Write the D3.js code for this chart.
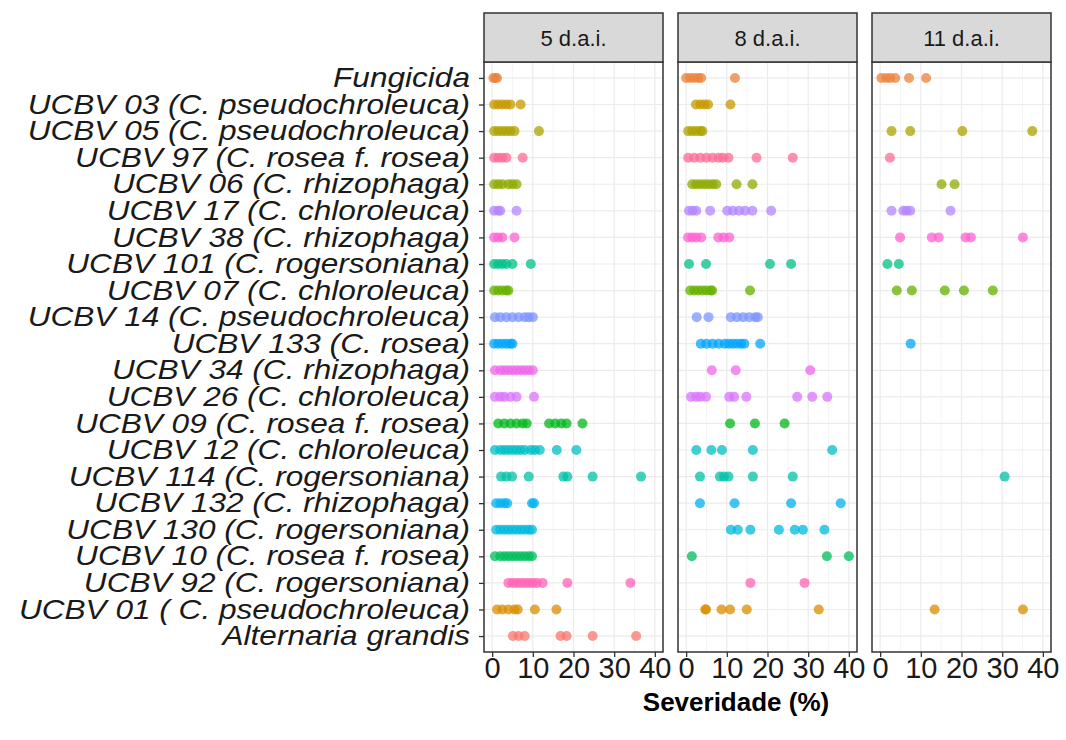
<!DOCTYPE html>
<html lang="en">
<head>
    <meta charset="UTF-8">
    <title>Severidade por tratamento</title>
    <script src="https://d3js.org/d3.v7.min.js"></script>
    <style>
        body { margin: 0; background: #fff; }
        svg { font-family: "Liberation Sans", Arial, sans-serif; }
    </style>
</head>
<body>
    <script>
        // categories, top to bottom as drawn
        const treatments = [
            "Fungicida",
            "UCBV 03 (C. pseudochroleuca)",
            "UCBV 05 (C. pseudochroleuca)",
            "UCBV 97 (C. rosea f. rosea)",
            "UCBV 06 (C. rhizophaga)",
            "UCBV 17 (C. chloroleuca)",
            "UCBV 38 (C. rhizophaga)",
            "UCBV 101 (C. rogersoniana)",
            "UCBV 07 (C. chloroleuca)",
            "UCBV 14 (C. pseudochroleuca)",
            "UCBV 133 (C. rosea)",
            "UCBV 34 (C. rhizophaga)",
            "UCBV 26 (C. chloroleuca)",
            "UCBV 09 (C. rosea f. rosea)",
            "UCBV 12 (C. chloroleuca)",
            "UCBV 114 (C. rogersoniana)",
            "UCBV 132 (C. rhizophaga)",
            "UCBV 130 (C. rogersoniana)",
            "UCBV 10 (C. rosea f. rosea)",
            "UCBV 92 (C. rogersoniana)",
            "UCBV 01 ( C. pseudochroleuca)",
            "Alternaria grandis"
        ];

        const days = ["5 d.a.i.", "8 d.a.i.", "11 d.a.i."];
        const xTicks = [0, 10, 20, 30, 40];

        // severity (%) observations, one list per treatment (same order as treatments)
        const sev5 = [
            [0.3, 0.8, 1.2],
            [0.5, 1.5, 2.5, 3.5, 4.5, 7],
            [0.5, 1.5, 2.5, 3.5, 4.5, 5.5, 11.5],
            [0.5, 1.5, 2.5, 3.5, 7.5],
            [0.5, 1.5, 2.5, 4, 5, 6],
            [0.5, 1.5, 2, 6],
            [0.5, 1.5, 2.5, 5.5],
            [0.5, 1.5, 2.5, 3.5, 5, 9.5],
            [0.5, 1.5, 2.5, 3.5, 4],
            [0.7, 2, 3.5, 5, 6.5, 8, 9, 10],
            [0.5, 1.5, 2.5, 3.5, 4.5, 5],
            [0.7, 2, 3, 4, 5, 6, 7, 8, 9, 10],
            [0.7, 2, 3, 4.5, 6, 10.3],
            [1.5, 3, 4.5, 6, 7.5, 8.5, 14, 15.5, 17, 18.3, 22.2],
            [0.7, 2, 3, 4, 5, 6, 7, 8, 9.5, 10.5, 11.7, 15.9, 20.7],
            [2.2, 3.5, 4.9, 9, 17.5, 18.5, 24.7, 36.6],
            [1, 2, 3, 3.7, 9.8, 10.3],
            [1, 2, 3, 4, 5, 6, 7, 8, 9, 9.8],
            [0.7, 2, 3, 4, 5, 6, 7, 8, 9, 9.8],
            [4, 5, 6, 7, 8, 9, 10, 11, 12.4, 18.5, 34],
            [1.2, 2.5, 4, 5.5, 6.3, 10.5, 15.8],
            [5.1, 6.5, 8, 16.8, 18.3, 24.7, 35.4]
        ];

        const sev8 = [
            [0, 1, 2, 3, 3.7, 12],
            [2.4, 3.5, 4.5, 5.4, 10.9],
            [0.5, 1.5, 2.5, 3.5, 4],
            [0.5, 2, 3.5, 5, 6.5, 8, 9, 10.4, 17.3, 26.2],
            [1.5, 2.5, 3.5, 4.5, 5.5, 6.5, 7.4, 12.4, 16.3],
            [0.7, 1.6, 2.5, 5.9, 10.1, 11.5, 13, 14.5, 16.3, 20.9],
            [0.5, 1.5, 2.5, 3.7, 7.9, 9.2, 10.6],
            [0.7, 4.9, 20.6, 25.8],
            [1, 2, 3, 4, 5, 6, 6.4, 15.7],
            [2.6, 5.5, 11, 12.5, 14, 15.5, 17, 17.6],
            [3.6, 5, 6.5, 8, 9.5, 10.5, 11.5, 12.5, 13.5, 14.3, 18.2],
            [6.3, 12.2, 30.5],
            [1.2, 2.5, 3.5, 4.9, 10.6, 11.8, 14.8, 27.3, 31, 34.7],
            [10.8, 16.9, 24.2],
            [2.5, 6.2, 8.8, 16.4, 35.9],
            [3.4, 8.3, 9.3, 10.4, 16.4, 26.2],
            [3.4, 11.9, 25.8, 38],
            [11, 12.7, 15.8, 22.8, 26.7, 28.7, 34],
            [1.4, 34.6, 40],
            [15.8, 29.1],
            [4.7, 4.9, 8.7, 10.8, 14.9, 32.6],
            []
        ];

        const sev11 = [
            [0.3, 1.5, 2.5, 3.7, 7.1, 11.3],
            [],
            [2.8, 7.4, 20.2, 37.4],
            [2.4],
            [15.1, 18.3],
            [2.8, 5.7, 6.5, 7.4, 17.3],
            [4.9, 12.7, 14.4, 21, 22.3, 35.1],
            [1.8, 4.6],
            [4.1, 7.8, 15.9, 20.6, 27.7],
            [],
            [7.5],
            [],
            [],
            [],
            [],
            [30.6],
            [],
            [],
            [],
            [],
            [13.4, 35.1],
            []
        ];

        const panelValues = [sev5, sev8, sev11];

        // ggplot-like hue palette (polar LUV, c = 100, l = 65)
        function hclLuv(h, c, l) {
            const Xn = 95.047, Yn = 100, Zn = 108.883;
            const den = Xn + 15 * Yn + 3 * Zn;
            const un = 4 * Xn / den, vn = 9 * Yn / den;
            const hr = h * Math.PI / 180;
            const Y = Yn * Math.pow((l + 16) / 116, 3);
            const u = c * Math.cos(hr) / (13 * l) + un;
            const v = c * Math.sin(hr) / (13 * l) + vn;
            const X = 9 * Y * u / (4 * v);
            const Z = -X / 3 - 5 * Y + 3 * Y / v;
            const x = X / 100, y = Y / 100, z = Z / 100;
            const lin = [
                3.240479 * x - 1.537150 * y - 0.498535 * z,
                -0.969256 * x + 1.875992 * y + 0.041556 * z,
                0.055648 * x - 0.204043 * y + 1.057311 * z
            ];
            const rgb = lin.map(t => {
                const g = t <= 0.0031308 ? 12.92 * t : 1.055 * Math.pow(t, 1 / 2.4) - 0.055;
                return Math.round(255 * Math.max(0, Math.min(1, g)));
            });
            return d3.rgb(rgb[0], rgb[1], rgb[2]).formatHex();
        }

        const colorLevels = treatments.slice().sort();
        const n = colorLevels.length;
        const color = d3.scaleOrdinal()
            .domain(colorLevels)
            .range(colorLevels.map((d, i) => hclLuv(15 + i * 360 / n, 100, 65)));

        const width = 1066, height = 740;
        const panelTop = 62, panelBottom = 652, stripTop = 13;
        const panelLeft = 484, panelW = 179, panelGap = 15;

        const svg = d3.select("body").append("svg")
            .attr("width", width)
            .attr("height", height);

        const y = d3.scalePoint()
            .domain(treatments)
            .range([panelTop, panelBottom])
            .padding(0.6);

        const x = d3.scaleLinear()
            .domain([-2, 42])
            .range([0, panelW]);

        const minorTicks = [5, 15, 25, 35];

        days.forEach((day, p) => {
            const g = svg.append("g")
                .attr("transform", `translate(${panelLeft + p * (panelW + panelGap)},0)`);

            // grid
            g.selectAll(".minor")
                .data(minorTicks)
                .enter().append("line")
                .attr("x1", d => x(d)).attr("x2", d => x(d))
                .attr("y1", panelTop).attr("y2", panelBottom)
                .attr("stroke", "#F2F2F2")
                .attr("stroke-width", 0.8);

            g.selectAll(".vmajor")
                .data(xTicks)
                .enter().append("line")
                .attr("x1", d => x(d)).attr("x2", d => x(d))
                .attr("y1", panelTop).attr("y2", panelBottom)
                .attr("stroke", "#EBEBEB")
                .attr("stroke-width", 1.2);

            g.selectAll(".hmajor")
                .data(treatments)
                .enter().append("line")
                .attr("x1", 0).attr("x2", panelW)
                .attr("y1", d => y(d)).attr("y2", d => y(d))
                .attr("stroke", "#EBEBEB")
                .attr("stroke-width", 1.2);

            // points
            const pts = [];
            treatments.forEach((t, i) => {
                panelValues[p][i].forEach(v => pts.push({ t, v }));
            });

            g.selectAll(".pt")
                .data(pts)
                .enter().append("circle")
                .attr("cx", d => x(d.v))
                .attr("cy", d => y(d.t))
                .attr("r", 5)
                .attr("fill", d => color(d.t))
                .attr("fill-opacity", 0.75);

            // panel border
            g.append("rect")
                .attr("x", 0).attr("y", panelTop)
                .attr("width", panelW).attr("height", panelBottom - panelTop)
                .attr("fill", "none")
                .attr("stroke", "#333333")
                .attr("stroke-width", 1.5);

            // strip
            g.append("rect")
                .attr("x", 0).attr("y", stripTop)
                .attr("width", panelW).attr("height", panelTop - stripTop)
                .attr("fill", "#D9D9D9")
                .attr("stroke", "#333333")
                .attr("stroke-width", 1.5);

            g.append("text")
                .attr("x", panelW / 2)
                .attr("y", (stripTop + panelTop) / 2 + 1)
                .attr("text-anchor", "middle")
                .attr("dominant-baseline", "central")
                .attr("font-size", 22)
                .attr("fill", "#1A1A1A")
                .text(day);

            // x axis
            const xAxis = g.append("g")
                .attr("transform", `translate(0,${panelBottom})`)
                .call(d3.axisBottom(x).tickValues(xTicks).tickSize(5).tickPadding(0));
            xAxis.select(".domain").remove();
            xAxis.selectAll("line").attr("stroke", "#333333").attr("stroke-width", 1.3);
            xAxis.selectAll("text")
                .attr("font-size", 29)
                .attr("font-family", "Liberation Sans, Arial, sans-serif")
                .attr("fill", "#1A1A1A");
        });

        // y axis
        const yAxis = svg.append("g")
            .attr("transform", `translate(${panelLeft},0)`)
            .call(d3.axisLeft(y).tickSize(5));
        yAxis.select(".domain").remove();
        yAxis.selectAll("line").attr("stroke", "#333333").attr("stroke-width", 1.3);
        yAxis.selectAll("text")
            .attr("x", 0)
            .attr("transform", "translate(-14,0) scale(1.17,1)")
            .attr("font-size", 27)
            .attr("font-style", "italic")
            .attr("font-family", "Liberation Sans, Arial, sans-serif")
            .attr("fill", "#1A1A1A");

        // x title
        svg.append("text")
            .attr("x", 736)
            .attr("y", 711)
            .attr("text-anchor", "middle")
            .attr("font-size", 26)
            .attr("font-weight", "bold")
            .attr("fill", "#000")
            .text("Severidade (%)");
    </script>
</body>
</html>
